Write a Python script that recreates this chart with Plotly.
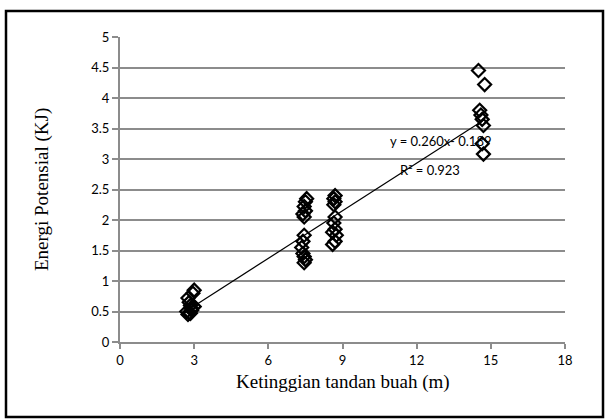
import plotly.graph_objects as go

# Data (height in m, potential energy in kJ)
height_m = [2.75, 2.8, 2.85, 2.9, 2.95, 3.0, 2.7, 2.8, 2.9, 3.0, 2.75, 2.85,
            7.55, 7.5, 7.45, 7.5, 7.4, 7.45, 7.45, 7.4, 7.35, 7.4, 7.45, 7.5, 7.45,
            8.7, 8.65, 8.7, 8.65, 8.7, 8.65, 8.7, 8.6, 8.75, 8.7, 8.6,
            14.5, 14.75, 14.55, 14.6, 14.65, 14.7, 14.65, 14.7]
energy_kj = [0.72, 0.65, 0.6, 0.55, 0.8, 0.85, 0.5, 0.48, 0.52, 0.58, 0.45, 0.47,
             2.35, 2.3, 2.22, 2.15, 2.1, 2.05, 1.75, 1.65, 1.55, 1.45, 1.4, 1.35, 1.3,
             2.4, 2.35, 2.3, 2.25, 2.05, 1.95, 1.85, 1.8, 1.75, 1.65, 1.6,
             4.45, 4.22, 3.8, 3.72, 3.65, 3.55, 3.25, 3.08]

slope = 0.260
intercept = -0.189
r_squared = 0.923

x_ticks = [0, 3, 6, 9, 12, 15, 18]
y_ticks = [0, 0.5, 1, 1.5, 2, 2.5, 3, 3.5, 4, 4.5, 5]

x_line = [min(height_m), max(height_m)]
y_line = [slope * v + intercept for v in x_line]

fig = go.Figure()
fig.add_trace(go.Scatter(x=x_line, y=y_line, mode="lines",
                         line=dict(color="black", width=1.2), showlegend=False,
                         hoverinfo="skip"))
fig.add_trace(go.Scatter(x=height_m, y=energy_kj, mode="markers",
                         marker=dict(symbol="diamond-open", size=10, color="black",
                                     line=dict(width=2.2, color="black")),
                         showlegend=False))

tick_font = dict(family="Lato, Open Sans, sans-serif", size=13, color="#000000")
fig.update_xaxes(range=[0, 18], tickvals=x_ticks, ticktext=[str(v) for v in x_ticks],
                 showgrid=False, zeroline=False, showline=True, linecolor="#8c8c8c",
                 linewidth=2, ticks="outside", ticklen=5, tickwidth=2, tickcolor="#8c8c8c",
                 tickfont=tick_font, fixedrange=True)
fig.update_yaxes(range=[0, 5], tickvals=y_ticks, ticktext=[f"{v:g}" for v in y_ticks],
                 showgrid=True, gridcolor="#8c8c8c", gridwidth=2, zeroline=False,
                 showline=True, linecolor="#8c8c8c", linewidth=2, ticks="outside",
                 ticklen=6, tickwidth=2, tickcolor="#8c8c8c", tickfont=tick_font,
                 fixedrange=True)

W, H = 606, 419
L, R, T, B = 120, 41, 37, 77
pw, ph = W - L - R, H - T - B

def px_x(p):
    return (p - L) / pw

def px_y(p):
    return (H - B - p) / ph

fig.add_shape(type="rect", xref="paper", yref="paper",
              x0=px_x(6), x1=px_x(603), y0=px_y(417), y1=px_y(11),
              line=dict(color="black", width=2.5), layer="below")

title_font = dict(family="Liberation Serif, Times New Roman, serif", size=19, color="black")
fig.add_annotation(xref="paper", yref="paper", x=px_x(42), y=px_y(190),
                   xanchor="center", yanchor="middle",
                   text="Energi Potensial (KJ)", textangle=-90, showarrow=False,
                   font=title_font)
fig.add_annotation(xref="paper", yref="paper", x=px_x(343), y=px_y(382),
                   xanchor="center", yanchor="middle",
                   text="Ketinggian tandan buah (m)", showarrow=False, font=title_font)

eq_font = dict(family="Lato, Open Sans, sans-serif", size=13, color="black")
fig.add_annotation(x=12.96, y=3.30, text=f"y = {slope:.3f}x- {abs(intercept):.3f}",
                   showarrow=False, font=eq_font)
fig.add_annotation(x=12.55, y=2.82, text=f"R² = {r_squared:.3f}",
                   showarrow=False, font=eq_font)

fig.update_layout(width=W, height=H, margin=dict(l=L, r=R, t=T, b=B, pad=0),
                  paper_bgcolor="white", plot_bgcolor="white")

fig.write_html("out.html")
